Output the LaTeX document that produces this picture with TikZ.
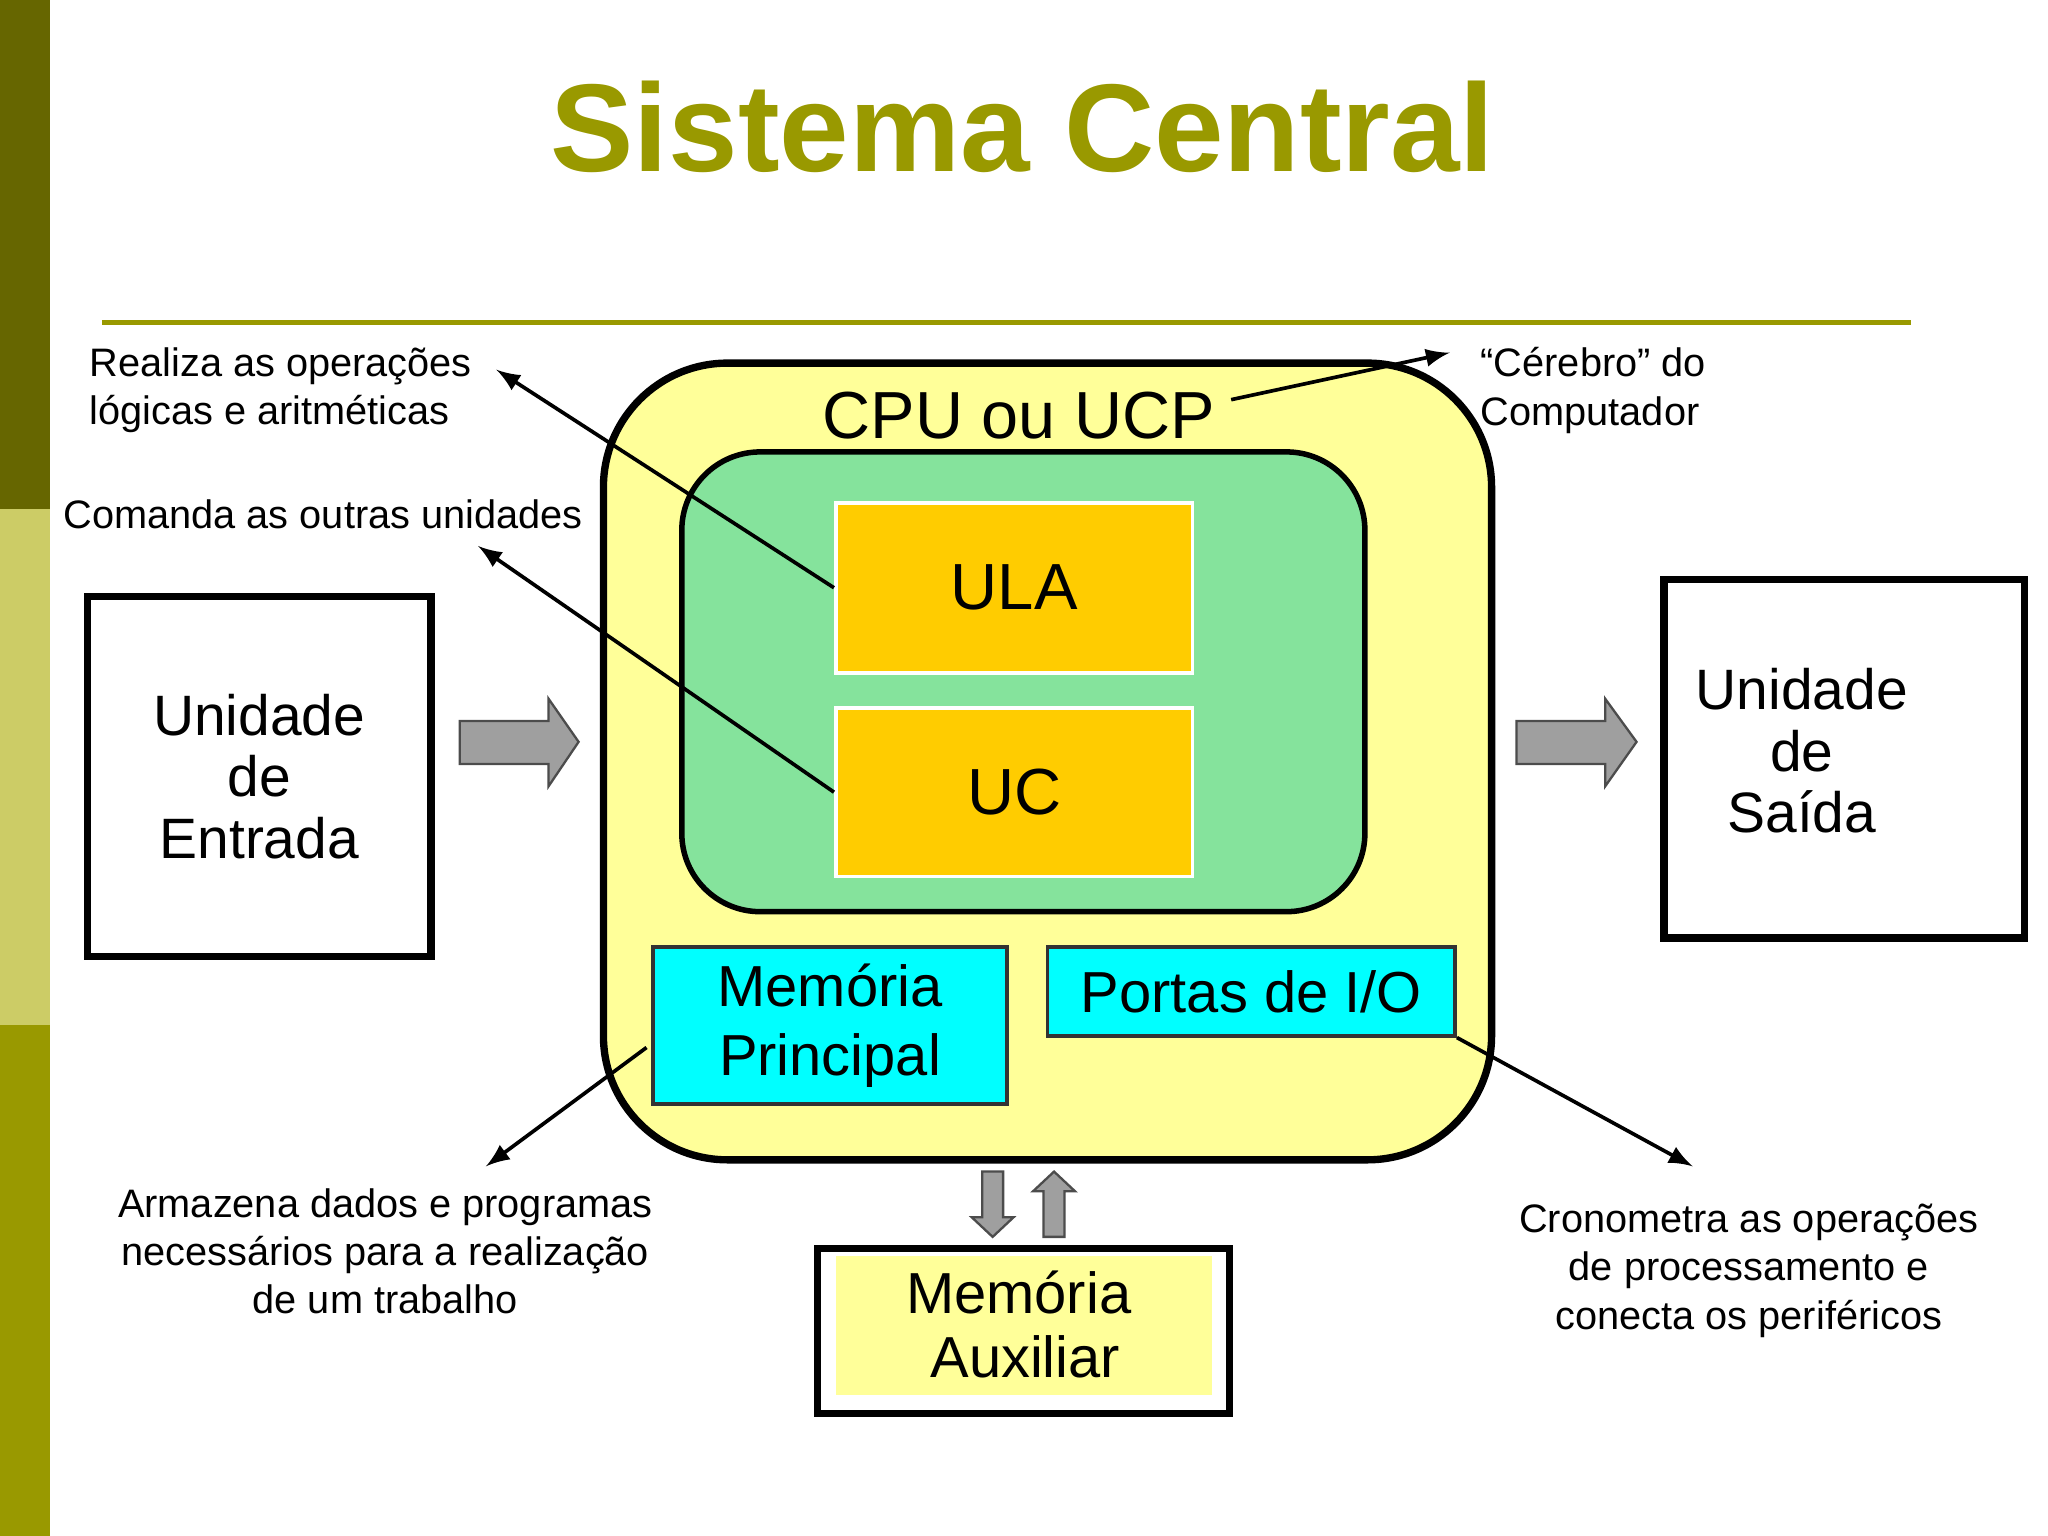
\documentclass[tikz,border=0pt]{standalone}
\usepackage{fontspec}
\setmainfont{Liberation Sans}
\begin{document}
\begin{tikzpicture}[x=0.01cm,y=-0.01cm,
  box/.style={draw=black,line width=1.6pt,fill=white,align=center,font=\fontsize{12.4}{13.4}\selectfont,inner sep=0pt},
  note/.style={font=\fontsize{8.65}{10.5}\selectfont,inner sep=0pt},
  ann/.style={-latex,line width=0.8pt},
  blk/.style={fill=gray!75,draw=black!70,line width=0.5pt}]
\definecolor{cy}{RGB}{0,255,255}
\useasboundingbox (0,0) rectangle (1568,1176);
\fill[fill={rgb,255:red,102;green,102;blue,0}] (0,0) rectangle (38,390);
\fill[fill={rgb,255:red,204;green,204;blue,102}] (0,390) rectangle (38,785);
\fill[fill={rgb,255:red,153;green,153;blue,0}] (0,785) rectangle (38,1176);
\node[font=\fontsize{27.2}{28}\selectfont\bfseries,text={rgb,255:red,153;green,153;blue,0}] (title) at (783,97) {Sistema Central};
\draw[line width=1.2pt,draw={rgb,255:red,153;green,153;blue,0}] (78,247) -- (1463,247);
% CPU
\draw[line width=1.6pt,fill={rgb,255:red,255;green,255;blue,153},rounded corners=0.95cm] (462,278) rectangle (1142,888);
\node[font=\fontsize{14.5}{15}\selectfont] (cpu) at (780,318) {CPU ou UCP};
\draw[line width=1.2pt,fill={rgb,255:red,133;green,227;blue,156},rounded corners=0.6cm] (522,346) rectangle (1045,698);
\node[draw=white,line width=0.8pt,fill={rgb,255:red,255;green,204;blue,0},minimum width=2.73cm,minimum height=1.3cm,font=\fontsize{14.2}{15}\selectfont,inner sep=0pt] (ula) at (776.5,450) {ULA};
\node[draw=white,line width=0.8pt,fill={rgb,255:red,255;green,204;blue,0},minimum width=2.73cm,minimum height=1.29cm,font=\fontsize{14.2}{15}\selectfont,inner sep=0pt] (uc) at (776.5,606.5) {UC};
\node[draw=black!80,line width=0.8pt,fill=cy,minimum width=2.71cm,minimum height=1.2cm,align=center,font=\fontsize{12.6}{15}\selectfont,inner sep=0pt] (mp) at (635.5,785) {Memória\\Principal};
\node[draw=black!80,line width=0.8pt,fill=cy,minimum width=3.12cm,minimum height=0.68cm,font=\fontsize{12.6}{13}\selectfont,inner sep=0pt] (io) at (958,759) {Portas de I/O};
% units
\node[box,minimum width=2.63cm,minimum height=2.75cm] (ent) at (198.5,594.5) {Unidade\\de\\Entrada};
\node[box,minimum width=2.76cm,minimum height=2.74cm] (sai) at (1412,581) {\hspace*{-0.65cm}\begin{tabular}{@{}c@{}}Unidade\\de\\Saída\end{tabular}};
\node[draw=black,line width=1.6pt,fill=white,minimum width=3.15cm,minimum height=1.26cm,inner sep=0pt] (aux) at (783.5,1019) {};
\fill[fill={rgb,255:red,255;green,255;blue,153}] (640,962) rectangle (928,1068);
\node[align=center,font=\fontsize{12.6}{14}\selectfont] (auxt) at (780,1014) {Memória\\\hspace*{0.1cm}Auxiliar};
% block arrows
\draw[blk] (352,552) -- (420,552) -- (420,535) -- (443,568) -- (420,602) -- (420,585) -- (352,585) -- cycle;
\draw[blk] (1161,552) -- (1229,552) -- (1229,535) -- (1253,568) -- (1229,602) -- (1229,585) -- (1161,585) -- cycle;
\draw[blk] (752,897) -- (768,897) -- (768,932) -- (776,932) -- (760,947) -- (744,932) -- (752,932) -- cycle;
\draw[blk] (799,947) -- (815,947) -- (815,912) -- (823,912) -- (807,897) -- (791,912) -- (799,912) -- cycle;
% notes
\node[note,anchor=west,align=left] (n1) at (68,299) {Realiza as operações\\lógicas e aritméticas};
\node[note,anchor=west] (n2) at (48,394) {Comanda as outras unidades};
\node[note,anchor=west,align=left] (n3) at (1133,299) {“Cérebro” do\\Computador};
\node[note,align=center] (n4) at (295,958) {Armazena dados e programas\\necessários para a realização\\de um trabalho};
\node[note,align=center] (n5) at (1339,973) {Cronometra as operações\\de processamento e\\conecta os periféricos};
\coordinate (a1) at (380,283);
\coordinate (a2) at (366,418);
\coordinate (a3) at (1110,270);
\coordinate (a4) at (372,893);
\coordinate (a5) at (1296,893);
\draw[ann] (ula.west) -- (a1);
\draw[ann] (uc.west) -- (a2);
\draw[ann] (cpu.east) ++(0,-12) -- (a3);
\draw[ann] (495,802) -- (a4);
\draw[ann] (io.south east) -- (a5);
\end{tikzpicture}
\end{document}
